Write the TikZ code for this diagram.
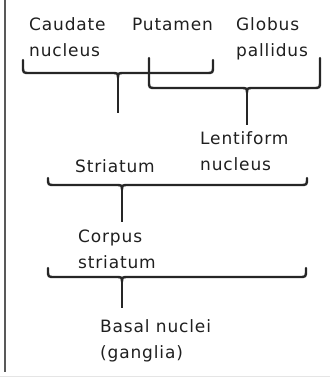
\documentclass[tikz,border=0pt]{standalone}
\usepackage{fontspec}
\newfontfamily\lab[LetterSpace=5]{DejaVu Sans}
\newcommand\mybrace[5]{% x1, x2, xtip, ytop, yh
  \draw[brace] (#1,#4) -- (#1,{#5-7}) .. controls (#1,#5) .. ({#1+7},#5)
    -- ({#3-7},#5) .. controls (#3,#5) .. (#3,{#5+5})
    .. controls (#3,#5) .. ({#3+7},#5) -- ({#2-7},#5)
    .. controls (#2,#5) .. (#2,{#5-7}) -- (#2,#4);}
\begin{document}
\begin{tikzpicture}[x=1pt,y=-1pt,
  lbl/.style={font=\lab\fontsize{17}{26}\selectfont, text=black!88, inner sep=0pt, align=left, anchor=base west},
  brace/.style={line width=2.4pt, draw=black!85, line join=round, line cap=round},
  stem/.style={line width=1.6pt, draw=black!85}]
\useasboundingbox (0,0) rectangle (330,378);
\draw[line width=2pt, black!65] (5,0) -- (5,372);
\draw[line width=0.8pt, black!10] (0,376) -- (330,376);
% labels (base anchor = baseline of the last line)
\node[lbl] (caud) at (29,56) {Caudate\\nucleus};
\node[lbl] (put) at (132,30) {Putamen};
\node[lbl] (glob) at (236,56) {Globus\\pallidus};
\node[lbl] (lent) at (200,170) {Lentiform\\nucleus};
\node[lbl] (stri) at (75,172) {Striatum};
\node[lbl] (corp) at (78,268) {Corpus\\striatum};
\node[lbl] (basal) at (100,358) {Basal nuclei\\(ganglia)};
% braces
\mybrace{23}{213}{118}{60}{73}
\mybrace{149}{320}{247}{58}{88}
\mybrace{48}{307}{122}{178}{185}
\mybrace{48}{306}{122}{268}{277}
% stems
\coordinate (t1) at (118,78); \coordinate (e1) at (118,113);
\coordinate (t2) at (247,93); \coordinate (e2) at (247,125);
\coordinate (t3) at (122,190); \coordinate (e3) at (122,222);
\coordinate (t4) at (122,282); \coordinate (e4) at (122,308);
\draw[stem] (t1) -- (e1);
\draw[stem] (t2) -- (e2);
\draw[stem] (t3) -- (e3);
\draw[stem] (t4) -- (e4);
\end{tikzpicture}
\end{document}
